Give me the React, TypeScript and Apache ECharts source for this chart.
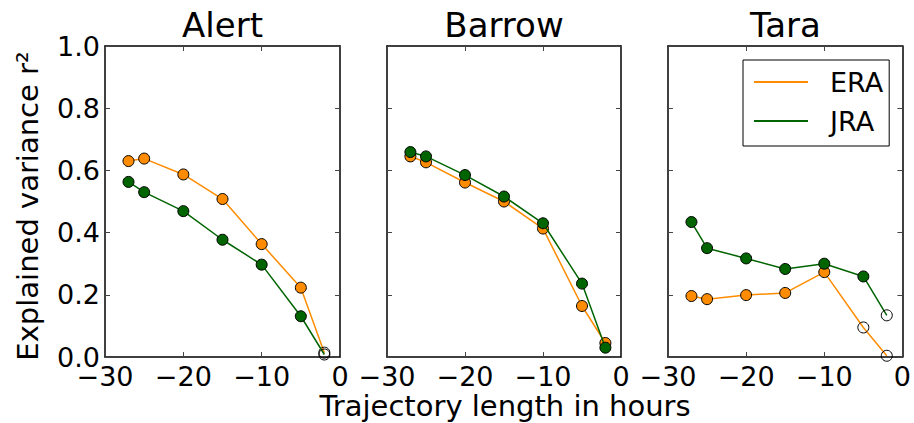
import React, { useEffect, useRef } from "react";
import * as echarts from "echarts";

const stations = ["Alert", "Barrow", "Tara"];
const trajectoryHours = [-27, -25, -20, -15, -10, -5, -2];

const alertERA = [0.63, 0.638, 0.587, 0.508, 0.363, 0.223, 0.014];
const alertJRA = [0.563, 0.53, 0.469, 0.377, 0.297, 0.131, 0.008];
const barrowERA = [0.645, 0.626, 0.561, 0.5, 0.413, 0.164, 0.045];
const barrowJRA = [0.659, 0.645, 0.585, 0.516, 0.43, 0.236, 0.03];
const taraERA = [0.196, 0.186, 0.199, 0.206, 0.273, 0.095, 0.004];
const taraJRA = [0.434, 0.35, 0.317, 0.283, 0.3, 0.259, 0.134];

// points drawn as open circles (not significant)
const alertERAOpen = [6];
const alertJRAOpen = [6];
const barrowERAOpen: number[] = [];
const barrowJRAOpen: number[] = [];
const taraERAOpen = [5, 6];
const taraJRAOpen = [6];

const yTicks = [0, 0.2, 0.4, 0.6, 0.8, 1.0];
const xTicks = [-30, -20, -10, 0];

const ERA_COLOR = "#ff8c00";
const JRA_COLOR = "#006400";
const FONT = "DejaVu Sans";

const panelLefts = [105, 387, 668];
const panelWidths = [235, 234, 235];
const panelTop = 46;
const panelHeight = 311;

export default function App() {
  const ref = useRef<HTMLDivElement>(null);

  useEffect(() => {
    if (!ref.current) return;
    const chart = echarts.init(ref.current, undefined, { renderer: "svg" });

    const eraSets = [alertERA, barrowERA, taraERA];
    const jraSets = [alertJRA, barrowJRA, taraJRA];
    const eraOpen = [alertERAOpen, barrowERAOpen, taraERAOpen];
    const jraOpen = [alertJRAOpen, barrowJRAOpen, taraJRAOpen];

    const grids = stations.map((_, i) => ({
      left: panelLefts[i],
      top: panelTop,
      width: panelWidths[i],
      height: panelHeight,
      containLabel: false,
    }));

    const frameLine = { show: true, lineStyle: { color: "#000", width: 1.5 } };
    const tick = { show: true, inside: true, length: 5, lineStyle: { color: "#444", width: 1 } };

    const xAxes: any[] = [];
    const yAxes: any[] = [];
    stations.forEach((_, i) => {
      xAxes.push({
        type: "value",
        gridIndex: i,
        position: "bottom",
        min: xTicks[0],
        max: xTicks[xTicks.length - 1],
        interval: 10,
        axisLine: { ...frameLine, onZero: false },
        axisTick: tick,
        splitLine: { show: false },
        axisLabel: {
          show: true,
          margin: 6,
          fontSize: 27,
          fontFamily: FONT,
          color: "#000",
          formatter: (v: number) => (v < 0 ? "\u2212" + Math.abs(v) : String(v)),
        },
      });
    });
    stations.forEach((_, i) => {
      xAxes.push({
        type: "value",
        gridIndex: i,
        position: "top",
        min: xTicks[0],
        max: xTicks[xTicks.length - 1],
        interval: 10,
        axisLine: { ...frameLine, onZero: false },
        axisTick: tick,
        splitLine: { show: false },
        axisLabel: { show: false },
      });
    });
    stations.forEach((_, i) => {
      yAxes.push({
        type: "value",
        gridIndex: i,
        position: "left",
        min: yTicks[0],
        max: yTicks[yTicks.length - 1],
        interval: 0.2,
        axisLine: { ...frameLine, onZero: false },
        axisTick: tick,
        splitLine: { show: false },
        axisLabel: {
          show: i === 0,
          margin: 5,
          fontSize: 27,
          fontFamily: FONT,
          color: "#000",
          formatter: (v: number) => v.toFixed(1),
        },
      });
    });
    stations.forEach((_, i) => {
      yAxes.push({
        type: "value",
        gridIndex: i,
        position: "right",
        min: yTicks[0],
        max: yTicks[yTicks.length - 1],
        interval: 0.2,
        axisLine: { ...frameLine, onZero: false },
        axisTick: tick,
        splitLine: { show: false },
        axisLabel: { show: false },
      });
    });

    const makeData = (vals: number[], open: number[]) =>
      vals.map((v, k) => {
        const item: any = { value: [trajectoryHours[k], v] };
        if (open.includes(k)) {
          item.itemStyle = { color: "rgba(0,0,0,0)", borderColor: "#000", borderWidth: 1 };
        }
        return item;
      });

    const series: any[] = [];
    stations.forEach((_, i) => {
      series.push({
        name: "ERA",
        type: "line",
        xAxisIndex: i,
        yAxisIndex: i,
        data: makeData(eraSets[i], eraOpen[i]),
        symbol: "circle",
        symbolSize: 11,
        showAllSymbol: true,
        lineStyle: { color: ERA_COLOR, width: 1.5 },
        itemStyle: { color: ERA_COLOR, borderColor: "#000", borderWidth: 1 },
        z: 2,
      });
      series.push({
        name: "JRA",
        type: "line",
        xAxisIndex: i,
        yAxisIndex: i,
        data: makeData(jraSets[i], jraOpen[i]),
        symbol: "circle",
        symbolSize: 11,
        showAllSymbol: true,
        lineStyle: { color: JRA_COLOR, width: 1.5 },
        itemStyle: { color: JRA_COLOR, borderColor: "#000", borderWidth: 1 },
        z: 3,
      });
    });

    const titles = stations.map((s, i) => ({
      type: "text",
      x: panelLefts[i] + panelWidths[i] / 2,
      y: 25,
      style: {
        text: s,
        fontSize: 34,
        fontFamily: FONT,
        fill: "#000",
        textAlign: "center",
        textVerticalAlign: "middle",
      },
    }));

    chart.setOption({
      animation: false,
      backgroundColor: "#fff",
      grid: grids,
      xAxis: xAxes,
      yAxis: yAxes,
      series,
      legend: {
        data: [
          { name: "ERA", itemStyle: { color: ERA_COLOR, borderWidth: 0 } },
          { name: "JRA", itemStyle: { color: JRA_COLOR, borderWidth: 0 } },
        ],
        orient: "vertical",
        left: 743,
        top: 60,
        icon: "rect",
        itemWidth: 54,
        itemHeight: 2,
        itemGap: 9,
        padding: [7, 6, 10, 11],
        borderColor: "#000",
        borderWidth: 1,
        borderRadius: 0,
        backgroundColor: "#fff",
        selectedMode: false,
        itemStyle: { borderWidth: 0 },
        lineStyle: { width: 0 },
        textStyle: {
          fontSize: 27,
          fontFamily: FONT,
          color: "#000",
          lineHeight: 30,
          padding: [0, 0, 0, 17],
        },
      },
      graphic: [
        ...titles,
        {
          type: "text",
          x: 505,
          y: 406,
          style: {
            text: "Trajectory length in hours",
            fontSize: 29,
            fontFamily: FONT,
            fill: "#000",
            textAlign: "center",
            textVerticalAlign: "middle",
          },
        },
        {
          type: "text",
          x: 28,
          y: 206,
          rotation: Math.PI / 2,
          style: {
            text: "Explained variance r\u00b2",
            fontSize: 29,
            fontFamily: FONT,
            fill: "#000",
            textAlign: "center",
            textVerticalAlign: "middle",
          },
        },
      ],
    });

    return () => chart.dispose();
  }, []);

  return (
    <div
      ref={ref}
      style={{ position: "absolute", left: 0, top: 0, width: 914, height: 423 }}
    />
  );
}
